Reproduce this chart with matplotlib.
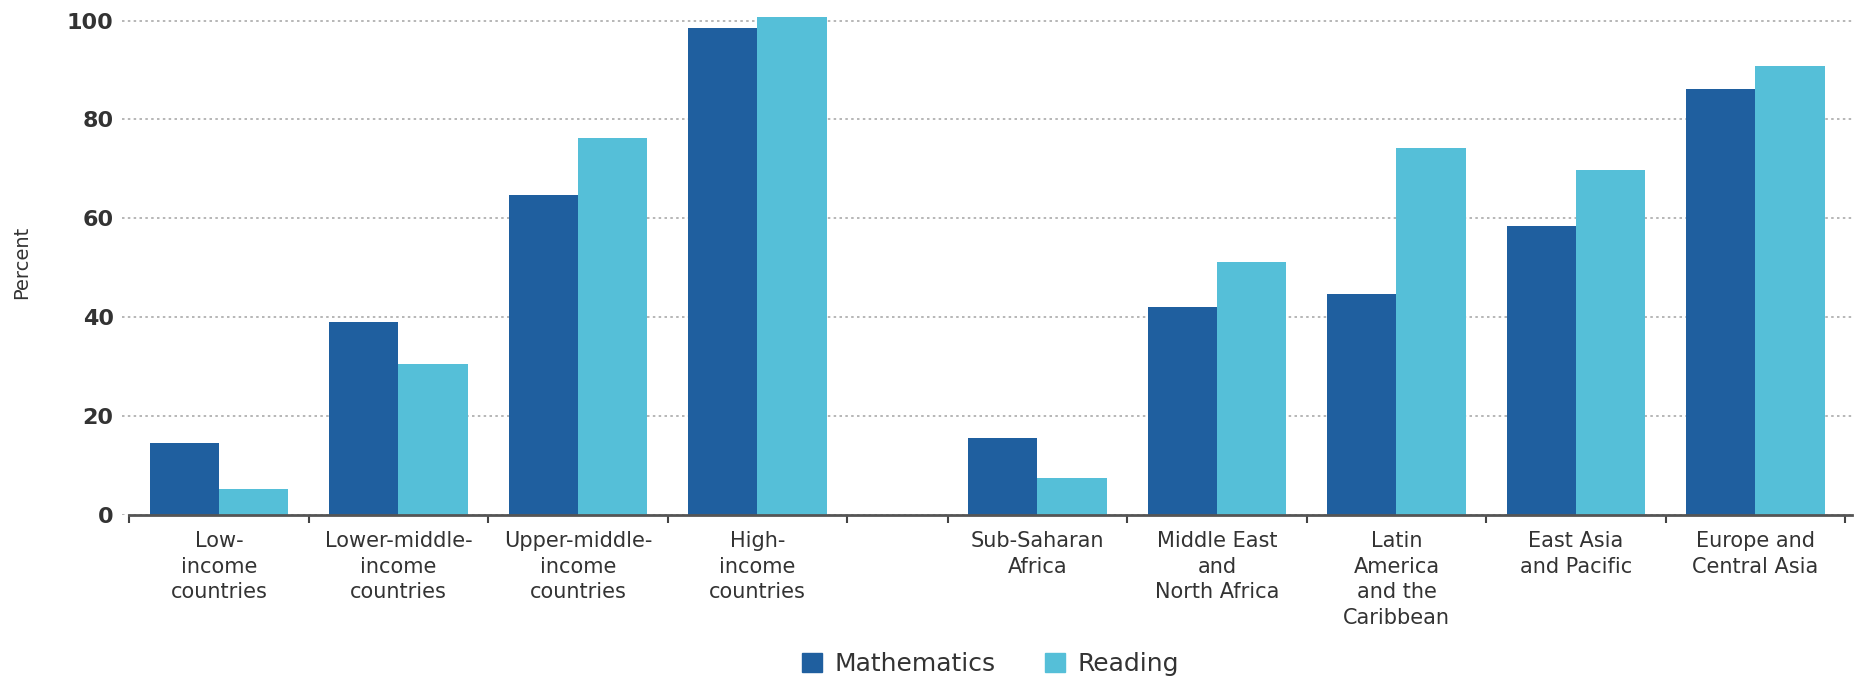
import numpy as np
import matplotlib
matplotlib.use("Agg")
from matplotlib import pyplot as plt
from matplotlib.patches import Patch

# data
categories = ["Low-\nincome\ncountries", "Lower-middle-\nincome\ncountries",
              "Upper-middle-\nincome\ncountries", "High-\nincome\ncountries",
              "Sub-Saharan\nAfrica", "Middle East\nand\nNorth Africa",
              "Latin\nAmerica\nand the\nCaribbean", "East Asia\nand Pacific",
              "Europe and\nCentral Asia"]
mathematics = [14.5, 39.0, 64.6, 98.5, 15.5, 42.1, 44.6, 58.4, 86.1]
reading = [5.2, 30.4, 76.2, 100.8, 7.3, 51.1, 74.1, 69.8, 90.8]
yticks = [0, 20, 40, 60, 80, 100]

MATH_COLOR = "#1f5f9f"
READ_COLOR = "#55bfd8"
TEXT_COLOR = "#333333"

# income groups on slots 0..3, a narrow empty slot, then regions
gap = 0.56
x = np.array([0.5, 1.5, 2.5, 3.5] + [4 + gap + 0.5 + i for i in range(5)])
bounds = [0, 1, 2, 3, 4, 4 + gap] + [4 + gap + 1 + i for i in range(5)]
w = 0.385

fig = plt.figure(figsize=(18.55, 6.81), dpi=100)
ax = fig.add_axes([0.0658, 0.2444, 0.9328, 0.740])

ax.bar(x - w / 2, mathematics, w, color=MATH_COLOR, zorder=3)
ax.bar(x + w / 2, reading, w, color=READ_COLOR, zorder=3)

ax.set_xlim(-0.04, 9.6)
ax.set_ylim(0, 102)

for s in ["top", "right", "left"]:
    ax.spines[s].set_visible(False)
ax.spines["bottom"].set_color("#555555")
ax.spines["bottom"].set_linewidth(2)
ax.spines["bottom"].set_bounds(0, 9.6)
ax.spines["bottom"].set_zorder(4)

ax.set_yticks(yticks)
ax.set_yticklabels([str(v) for v in yticks], fontsize=16, fontweight="bold",
                   color=TEXT_COLOR)
ax.tick_params(axis="y", length=0, pad=6)
ax.yaxis.grid(True, linestyle=(0, (1.5, 2)), color="#aaaaaa", linewidth=1.2, zorder=0)
ax.set_axisbelow(True)

ax.set_xticks(x)
ax.set_xticklabels(categories, fontsize=15, color=TEXT_COLOR, linespacing=1.35)
ax.tick_params(axis="x", which="major", length=0, pad=12)
ax.set_xticks(bounds, minor=True)
ax.tick_params(axis="x", which="minor", length=6, width=1.5, color="#444444",
               direction="out")

ax.set_ylabel("Percent", fontsize=14, color=TEXT_COLOR, labelpad=26)

handles = [Patch(color=MATH_COLOR, label="Mathematics"),
           Patch(color=READ_COLOR, label="Reading")]
fig.legend(handles=handles, loc="center", bbox_to_anchor=(0.534, 0.025),
           ncol=2, frameon=False, fontsize=18, handlelength=0.8, handleheight=0.8,
           columnspacing=2.0, handletextpad=0.5, labelcolor=TEXT_COLOR)

plt.savefig("out.png", dpi=100)
